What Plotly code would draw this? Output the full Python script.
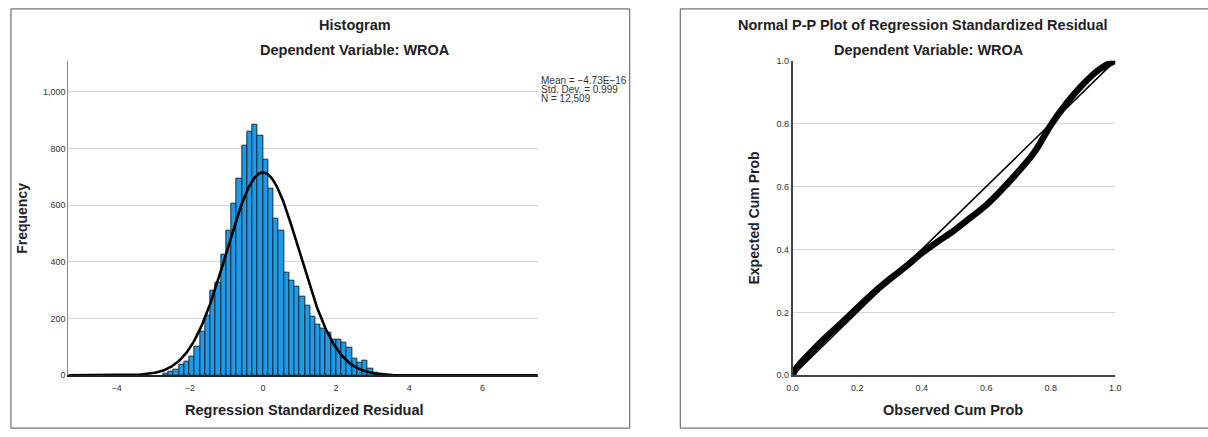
import numpy as np
import plotly.graph_objects as go

# ---------------- data ----------------
# Histogram counts (bins of equal width, 19 bins left of 0, 23 right of 0)
hist_counts_left = [5, 12, 20, 38, 49, 65, 100, 154, 211, 297, 326, 426, 509, 606, 694, 811, 860, 885, 846]
hist_counts_right = [760, 659, 551, 509, 363, 334, 314, 278, 246, 206, 179, 166, 149, 126, 126, 114, 99, 57, 46, 51, 23, 9, 6]
bin_width = 0.1433
stat_mean = -4.73e-16
stat_sd = 0.999
stat_n = 12509
stats_lines = ["Mean = -4.73E-16", "Std. Dev. = 0.999", "N = 12,509"]
hist_xticks = [-4, -2, 0, 2, 4, 6]
hist_yticks = [0, 200, 400, 600, 800, 1000]
hist_yticklabels = ["0", "200", "400", "600", "800", "1,000"]

# P-P plot
pp_observed = [0, 0.01, 0.03, 0.06, 0.1, 0.15, 0.19, 0.25, 0.3, 0.35, 0.4, 0.45, 0.5,
               0.55, 0.6, 0.65, 0.7, 0.75, 0.8, 0.85, 0.9, 0.95, 0.98, 1.0]
pp_expected = [0, 0.02, 0.045, 0.077, 0.118, 0.165, 0.204, 0.262, 0.305, 0.345, 0.388, 0.425, 0.46,
               0.50, 0.541, 0.592, 0.648, 0.71, 0.795, 0.866, 0.925, 0.972, 0.99, 1.0]
pp_ticks = [0.0, 0.2, 0.4, 0.6, 0.8, 1.0]

# ---------------- build ----------------
W, H = 1208, 437
counts = hist_counts_left + hist_counts_right
start = -len(hist_counts_left) * bin_width
centers = [start + (i + 0.5) * bin_width for i in range(len(counts))]

xr = (-5.32, 7.51)
xc = np.linspace(xr[0], xr[1], 600)
yc = stat_n * bin_width * np.exp(-0.5 * ((xc - stat_mean) / stat_sd) ** 2) / (stat_sd * np.sqrt(2 * np.pi))

fig = go.Figure()
fig.add_trace(go.Bar(x=centers, y=counts, width=bin_width,
                     marker=dict(color="#1e9be8", line=dict(color="#1b2a36", width=1)),
                     xaxis="x", yaxis="y", showlegend=False))
fig.add_trace(go.Scatter(x=xc, y=yc, mode="lines", line=dict(color="black", width=2.6),
                         xaxis="x", yaxis="y", showlegend=False))

fig.add_trace(go.Scatter(x=[0, 1], y=[0, 1], mode="lines", line=dict(color="black", width=1.6),
                         xaxis="x2", yaxis="y2", showlegend=False))
fig.add_trace(go.Scatter(x=pp_observed, y=pp_expected, mode="lines",
                         line=dict(color="black", width=6.5, shape="spline"),
                         xaxis="x2", yaxis="y2", showlegend=False))

def px(x):
    return x / W

def py(y):
    return 1 - y / H

tickfont = dict(family="Liberation Sans, Arial, sans-serif", size=9, color="#333333")
ydom = [py(379), py(57)]

fig.update_layout(
    width=W, height=H, autosize=False,
    margin=dict(l=0, r=0, t=0, b=0),
    paper_bgcolor="white", plot_bgcolor="white",
    bargap=0,
    xaxis=dict(domain=[px(63), px(537)], range=list(xr), tickvals=hist_xticks,
               ticktext=["\u22124", "\u22122", "0", "2", "4", "6"],
               showgrid=False, zeroline=False, showline=True, linecolor="#222222", linewidth=1.5,
               ticks="", tickfont=tickfont, anchor="y", ticklabelstandoff=3),
    yaxis=dict(domain=ydom, range=[0, 1110], tickvals=hist_yticks, ticktext=hist_yticklabels,
               showgrid=True, gridcolor="#d6d6d6", gridwidth=1, zeroline=False,
               showline=True, linecolor="#888888", linewidth=1, ticks="",
               tickfont=tickfont, anchor="x"),
    xaxis2=dict(domain=[px(794.5), px(1120.4)], range=[0, 1], tickvals=pp_ticks,
                ticktext=[f"{t:.1f}" for t in pp_ticks],
                showgrid=False, zeroline=False, showline=True, linecolor="#444444", linewidth=1.5,
                ticks="", tickfont=tickfont, anchor="y2", ticklabelstandoff=3),
    yaxis2=dict(domain=ydom, range=[0, 1], tickvals=pp_ticks,
                ticktext=[f"{t:.1f}" for t in pp_ticks],
                showgrid=True, gridcolor="#d6d6d6", gridwidth=1, zeroline=False,
                showline=True, linecolor="#444444", linewidth=1.5, ticks="",
                tickfont=tickfont, anchor="x2"),
)

# SPSS shows no gridline at 1.0 on the P-P plot
fig.add_shape(type="line", xref="x2", yref="y2", x0=0.003, x1=1, y0=1, y1=1,
              line=dict(color="white", width=2), layer="below")

bold = "Liberation Sans, Arial, sans-serif"
texts = [
    ("<b>Histogram</b>", 353, 20, 14.5),
    ("<b>Dependent Variable: WROA</b>", 353, 46.5, 14.5),
    ("<b>Regression Standardized Residual</b>", 301, 414, 14.5),
    ("<b>Normal P-P Plot of Regression Standardized Residual</b>", 926, 20, 14.5),
    ("<b>Dependent Variable: WROA</b>", 932, 46.5, 14.5),
    ("<b>Observed Cum Prob</b>", 957, 414, 14.5),
]
for t, x, y, s in texts:
    fig.add_annotation(text=t, x=px(x), y=py(y), xref="paper", yref="paper",
                       showarrow=False, xanchor="center", yanchor="middle",
                       font=dict(family=bold, size=s, color="#222222"))
for t, x, y in [("<b>Frequency</b>", 16, 218), ("<b>Expected Cum Prob</b>", 756, 218)]:
    fig.add_annotation(text=t, x=px(x), y=py(y), xref="paper", yref="paper",
                       showarrow=False, textangle=-90, xanchor="center", yanchor="middle",
                       font=dict(family=bold, size=14, color="#222222"))
for i, t in enumerate(stats_lines):
    fig.add_annotation(text=t.replace("-", "\u2212"), x=px(538), y=py(77 + i * 9.5),
                       xref="paper", yref="paper", showarrow=False,
                       xanchor="left", yanchor="middle",
                       font=dict(family=bold, size=10, color="#333333"))

# panel frames
for x0, x1 in [(5, 630), (681, 1215)]:
    fig.add_shape(type="rect", xref="paper", yref="paper",
                  x0=px(x0), x1=px(x1), y0=py(433), y1=py(4),
                  line=dict(color="#555555", width=1))

fig.write_html("out.html", config={"displayModeBar": False},
               post_script="document.body.style.margin='0px';document.body.style.overflow='hidden';")
